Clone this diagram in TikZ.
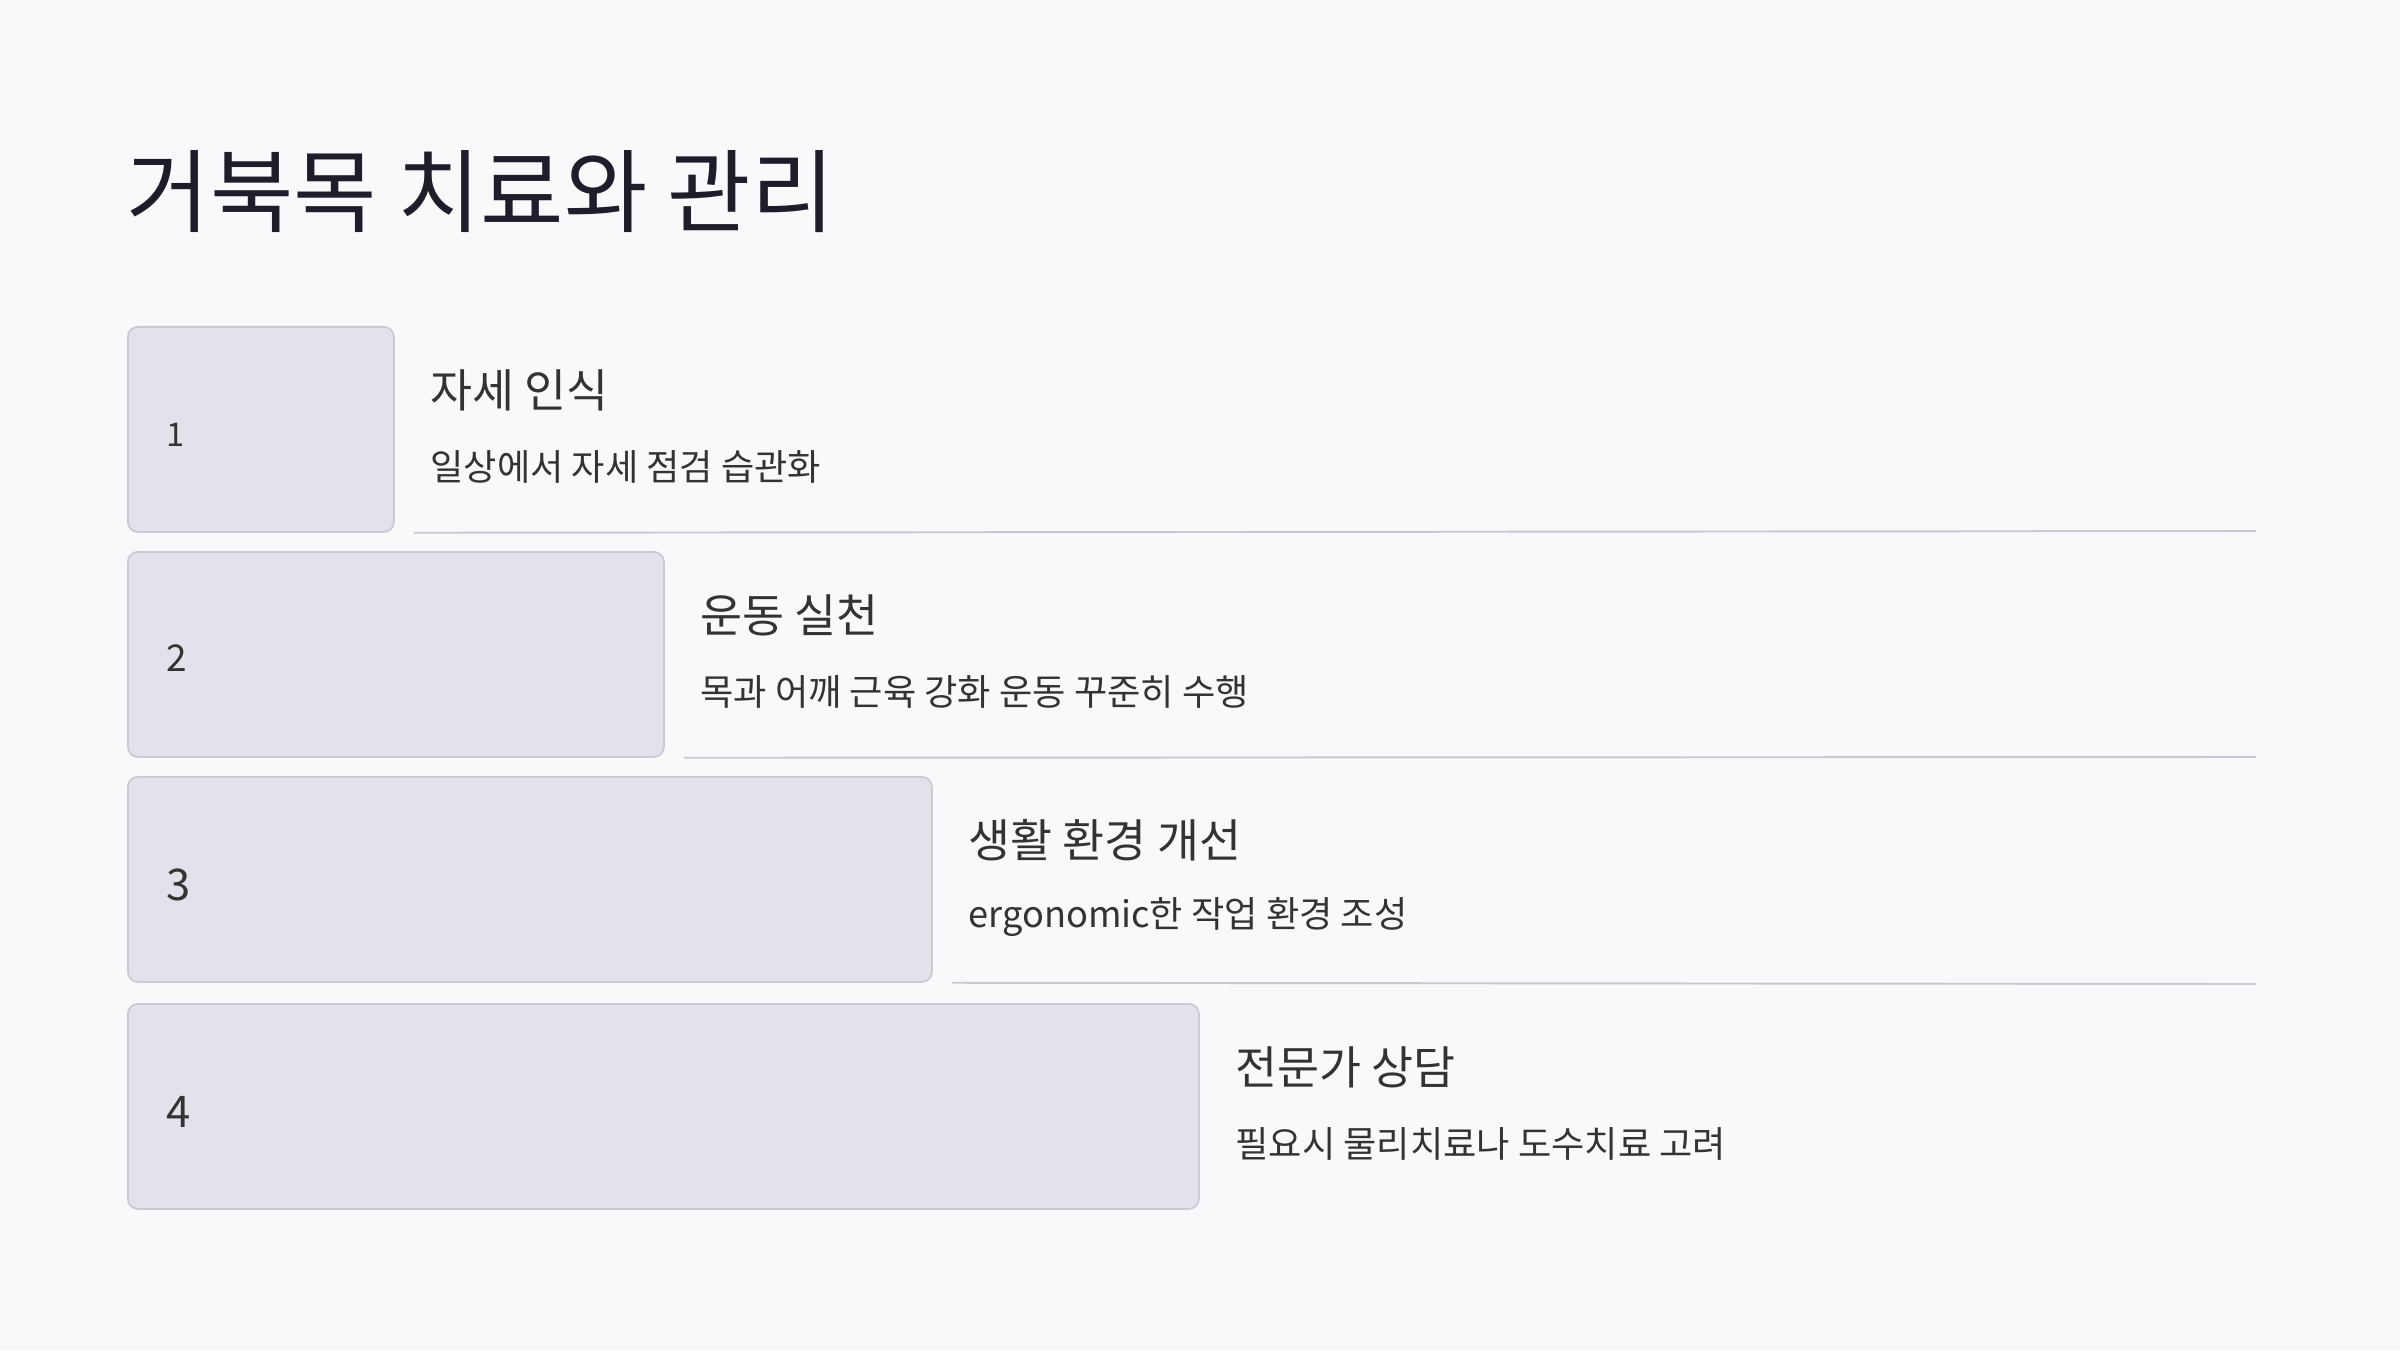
\documentclass[tikz,border=0pt]{standalone}
\usepackage{fontspec}
\setmainfont{Noto Sans CJK KR}
\usetikzlibrary{calc}

\definecolor{pagebg}{HTML}{F9F9FB}
\definecolor{boxfill}{HTML}{E1E2EA}
\definecolor{boxline}{HTML}{C9CAD3}
\definecolor{rulegray}{HTML}{C8C8D0}
\definecolor{titleink}{HTML}{1E1E2A}
\definecolor{bodyink}{HTML}{333333}

\tikzset{
	stepbox/.style={draw=boxline, line width=0.5pt, fill=boxfill, rounded corners=0.1cm, anchor=north west, minimum height=2.05cm, inner sep=0},
	numtext/.style={anchor=west, inner sep=0, text=bodyink},
	headtext/.style={anchor=west, inner sep=0, text=bodyink, font=\fontsize{13}{15}\selectfont},
	subtext/.style={anchor=west, inner sep=0, text=bodyink, font=\fontsize{10.3}{12}\selectfont},
	sepline/.style={draw=rulegray, line width=0.55pt}
}

\begin{document}
\begin{tikzpicture}
	\fill[pagebg] (0,0) rectangle (24,13.5);

	\node[anchor=west, inner sep=0, text=titleink, font=\fontsize{25.8}{30}\selectfont] (title) at (1.26,11.58) {거북목 치료와 관리};

	% steps
	\node[stepbox, minimum width=2.66cm] (box1) at (1.27,10.24) {};
	\node[stepbox, minimum width=5.36cm] (box2) at (1.27,7.99) {};
	\node[stepbox, minimum width=8.04cm] (box3) at (1.27,5.74) {};
	\node[stepbox, minimum width=10.71cm] (box4) at (1.27,3.47) {};

	\node[numtext, font=\fontsize{9.3}{11}\selectfont] (num1) at ($(box1.west)+(0.39,-0.05)$) {1};
	\node[numtext, font=\fontsize{10.5}{12}\selectfont] (num2) at ($(box2.west)+(0.39,-0.04)$) {2};
	\node[numtext, font=\fontsize{12.4}{14}\selectfont] (num3) at ($(box3.west)+(0.39,-0.06)$) {3};
	\node[numtext, font=\fontsize{12.4}{14}\selectfont] (num4) at ($(box4.west)+(0.39,-0.06)$) {4};

	\node[headtext] (head1) at ($(box1.north east)+(0.35,-0.64)$) {자세 인식};
	\node[subtext] (sub1) at ($(box1.north east)+(0.35,-1.41)$) {일상에서 자세 점검 습관화};
	\node[headtext] (head2) at ($(box2.north east)+(0.35,-0.64)$) {운동 실천};
	\node[subtext] (sub2) at ($(box2.north east)+(0.35,-1.41)$) {목과 어깨 근육 강화 운동 꾸준히 수행};
	\node[headtext] (head3) at ($(box3.north east)+(0.35,-0.64)$) {생활 환경 개선};
	\node[subtext] (sub3) at ($(box3.north east)+(0.35,-1.41)$) {ergonomic한 작업 환경 조성};
	\node[headtext] (head4) at ($(box4.north east)+(0.35,-0.64)$) {전문가 상담};
	\node[subtext] (sub4) at ($(box4.north east)+(0.35,-1.41)$) {필요시 물리치료나 도수치료 고려};

	% rules under the steps
	\coordinate (end1) at (22.56,8.19);
	\coordinate (end2) at (22.56,5.93);
	\coordinate (end3) at (22.56,3.66);
	\draw[sepline] ($(box1.south east)+(0.19,0)$) -- (end1);
	\draw[sepline] ($(box2.south east)+(0.19,0)$) -- (end2);
	\draw[sepline] ($(box3.south east)+(0.19,0)$) -- (end3);
\end{tikzpicture}
\end{document}
